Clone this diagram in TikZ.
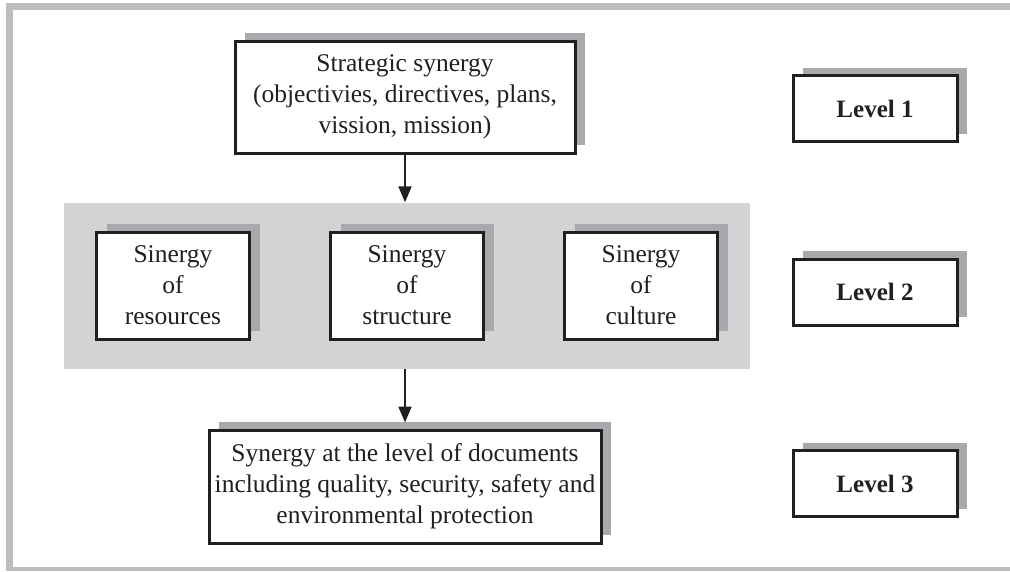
\documentclass[tikz,border=0pt]{standalone}
\usepackage{fontspec}
\setmainfont{Liberation Serif}
\usetikzlibrary{arrows.meta, positioning, fit, backgrounds, shadows}
\definecolor{framegray}{RGB}{189,190,192}
\definecolor{panelgray}{RGB}{209,211,212}
\definecolor{shadowgray}{RGB}{167,169,172}
\definecolor{inkblack}{RGB}{35,31,32}

\begin{document}
\begin{tikzpicture}[x=1pt, y=-1pt,
    >={Triangle[length=16pt, width=13pt]},
    box/.style={rectangle, draw=inkblack, line width=3pt, fill=white, text=inkblack, align=center, inner sep=0pt, font=\fontsize{25.5}{31}\selectfont, drop shadow={shadow xshift=10pt, shadow yshift=8pt, fill=shadowgray, opacity=1}},
    sinergy/.style={box, minimum width=153pt, minimum height=107pt},
    level/.style={box, minimum width=164pt, minimum height=66pt, font=\fontsize{25}{30}\selectfont\bfseries},
    panel/.style={rectangle, fill=panelgray, inner xsep=31pt, inner ysep=28pt},
    link/.style={->, line width=2pt, draw=inkblack}
]
\useasboundingbox (0,0) rectangle (1010,571);

% Frame
\fill[framegray] (6,3) rectangle (1010,10);
\fill[framegray] (6,3) rectangle (13,571);
\fill[framegray] (6,567) rectangle (1010,571);

% Strategic synergy
\node[box, minimum width=340pt, minimum height=112pt] (strategic) at (405,97) {Strategic synergy\\(objectivies, directives, plans,\\vission, mission)};

% Sinergy boxes
\node[sinergy] (structure) at (407,285.5) {Sinergy\\of\\structure};
\node[sinergy, left=78pt of structure] (resources) {Sinergy\\of\\resources};
\node[sinergy, right=78pt of structure] (culture) {Sinergy\\of\\culture};

% Gray panel behind level 2
\begin{scope}[on background layer]
\node[panel, fit=(resources)(culture)] (panel) {};
\end{scope}

% Documents
\node[box, minimum width=392pt, minimum height=113pt] (documents) at (405,486.5) {Synergy at the level of documents\\including quality, security, safety and\\environmental protection};

% Levels
\node[level] (level1) at (875,108.5) {Level 1};
\node[level] (level2) at (875,292) {Level 2};
\node[level] (level3) at (875,483.5) {Level 3};

% Arrows
\draw[link] (strategic) -- (strategic |- panel.north);
\draw[link, shorten >=6pt] (documents |- panel.south) -- (documents);

\end{tikzpicture}
\end{document}
